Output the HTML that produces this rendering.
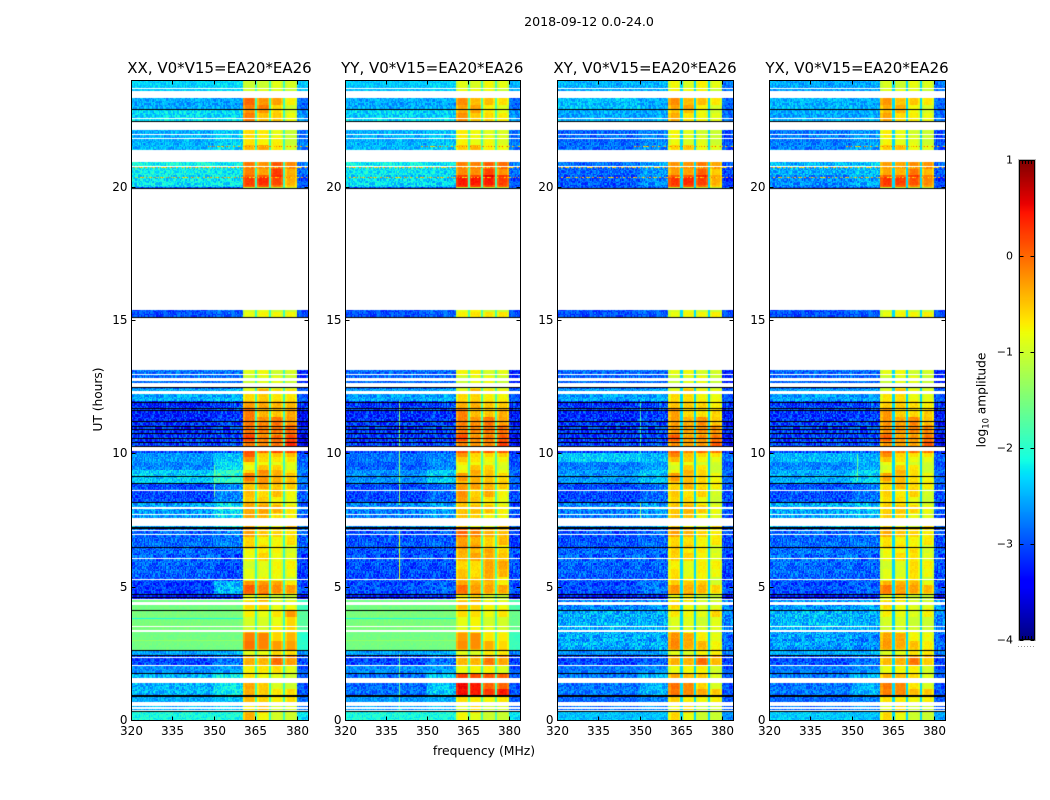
<!DOCTYPE html>
<html>
<head>
<meta charset="utf-8">
<title>2018-09-12 spectrograms</title>
<style>
html,body{margin:0;padding:0;background:#fff;width:1050px;height:800px;overflow:hidden}
#figure{position:relative;width:1050px;height:800px}
canvas{position:absolute;display:block}
svg{position:absolute;left:0;top:0}
text{font-family:"DejaVu Sans","Liberation Sans",sans-serif;fill:#000}
</style>
</head>
<body>
<div id="figure">
<svg id="overlay" width="1050" height="800" viewBox="0 0 1050 800">
<text x="589" y="26" font-size="12.6" text-anchor="middle">2018-09-12 0.0-24.0</text>
<text x="484" y="755" font-size="12.4" text-anchor="middle">frequency (MHz)</text>
<text transform="translate(102,399.5) rotate(-90)" font-size="12.2" text-anchor="middle">UT (hours)</text>
<text transform="translate(985.5,400) rotate(-90)" font-size="12.2" text-anchor="middle">log<tspan font-size="8.4" dy="3">10</tspan><tspan dy="-3"> amplitude</tspan></text>
</svg>
</div>
<script>
// Axis ticks
const freqTicks = [320, 335, 350, 365, 380];
const hourTicks = [0, 5, 10, 15, 20];
const colorbarTicks = [-4, -3, -2, -1, 0, 1];
// Time bands (UT hours) and frequency columns (MHz) of the heatmap cells
const hourEdges = [0,.35,.95,1.75,2.05,2.45,2.65,3.4,4.1,4.55,4.75,5.25,6.45,7.2,8.2,8.9,9.4,9.7,10.05,10.7,11.6,12,12.45,13.16,15.15,15.4,20,20.45,21,22.15,22.95,23.35,24];
const freqEdges = [320,350,360.5,365.3,370.2,375.3,380,384];
// Log10 amplitude per band (rows) and frequency column
const xxLevels = [
[-2.1,-2.1,-.35,-.7,-.75,-.8,-2.3],[-2.5,-2.4,-.6,-.7,-.8,-.8,-2.8],[-2.5,-2.2,-.55,-.65,-.7,-.8,-3],[-2.7,-2.6,-.7,-.7,-.7,-.8,-3],
[-3,-2.8,-.15,-.2,-.25,-.25,-3],[-2.6,-2.5,-.7,-.7,-.7,-.8,-2.7],[-1.55,-1.55,-.15,-.35,-.5,-.35,-2],[-1.5,-1.5,-.8,-.75,-.6,-.4,-1.7],
[-1.55,-1.55,-.85,-.55,-.8,-.8,-1.9],[-3.3,-3.2,-.9,-.9,-.9,-1,-3.4],[-3.1,-2.5,-.15,-.2,-.35,-.4,-3],[-2.9,-3,-.75,-.7,-.85,-.85,-3.1],
[-2.85,-2.75,-.45,-.6,-.8,-.8,-2.9],[-2.6,-2.3,-.4,-.45,-.55,-.65,-2.9],[-3,-2.7,-.55,-.5,-.65,-.6,-2.9],[-2.4,-2,-.35,-.4,-.5,-.5,-2.8],
[-2.7,-2.3,-.6,-.7,-.7,-.7,-2.9],[-2.6,-2.4,-.1,-.5,-.5,-.5,-2.9],[-3.1,-3,0,.05,.15,.1,-3.5],[-3.2,-3.1,-.2,-.2,-.25,-.2,-3.4],
[-3.2,-3,-.1,-.15,-.2,-.15,-3.2],[-2.55,-2.5,-.65,-.6,-.6,-.6,-3],[-2.8,-2.8,-1.1,-1,-1.05,-1.1,-3.2],[-3,-3,-1,-1,-1,-1,-3],
[-3,-2.9,-.9,-.9,-.9,-1,-3],[-3,-3,-1,-1,-1,-1,-3],[-2.25,-2.25,.25,.3,.1,-.3,-3],[-2.15,-2.2,.1,-.1,0,-.35,-2.8],
[-2.5,-2.35,-.45,-.5,-.6,-.9,-2.8],[-2.3,-2.3,-.35,-.45,-.45,-.8,-2.7],[-2.55,-2.6,-.2,-.3,-.45,-.85,-2.9],[-2.35,-2.3,-.9,-.85,-.95,-1,-2.4]];
const yyLevels = [
[-2.1,-2.1,-.75,-.8,-.8,-.85,-2.3],[-2.6,-2.5,-.8,-.85,-.85,-.85,-2.9],[-2.85,-2.4,.3,.3,.25,.25,-3],[-2.7,-2.6,-.8,-.8,-.8,-.85,-3],
[-3,-2.8,-.2,-.2,-.3,-.3,-3.1],[-2.6,-2.5,-.7,-.8,-.8,-.85,-2.8],[-1.55,-1.55,-.3,-.4,-.6,-.65,-1.9],[-1.5,-1.5,-.7,-.55,-.75,-.8,-1.6],
[-1.55,-1.55,-.7,-.55,-.7,-.8,-1.8],[-3.3,-3.2,-.8,-.8,-.8,-.9,-3.4],[-3,-2.9,-.25,-.35,-.45,-.45,-3],[-3,-3,-.35,-.45,-.4,-.45,-3],
[-2.95,-2.9,-.15,-.25,-.6,-.6,-3.1],[-2.75,-2.6,-.55,-.6,-.65,-.7,-3],[-3,-2.85,-.3,-.45,-.55,-.6,-3],[-2.7,-2.4,-.5,-.55,-.6,-.6,-2.9],
[-2.9,-2.7,-.6,-.7,-.7,-.75,-3],[-2.8,-2.7,-.4,-.55,-.6,-.6,-3],[-3.1,-3.05,-.05,0,.05,0,-3.4],[-3.15,-3.1,-.25,-.25,-.25,-.25,-3.3],
[-3.1,-3,-.2,-.2,-.3,-.25,-3.2],[-2.6,-2.55,-.65,-.65,-.65,-.7,-3],[-2.85,-2.85,-.95,-.95,-1,-1,-3.2],[-3,-3,-1,-1,-1,-1,-3],
[-3,-2.9,-.8,-.8,-.8,-.9,-3],[-3,-3,-1,-1,-1,-1,-3],[-2.3,-2.35,.45,.4,.35,.3,-3],[-2.2,-2.25,.05,0,-.05,-.2,-2.8],
[-2.5,-2.4,-.55,-.6,-.65,-.75,-2.8],[-2.35,-2.35,-.45,-.5,-.55,-.7,-2.7],[-2.55,-2.55,-.4,-.5,-.6,-.75,-2.9],[-2.4,-2.35,-.75,-.75,-.85,-.9,-2.5]];
const xyLevels = [
[-2.45,-2.45,-.55,-.75,-.8,-.85,-2.7],[-2.85,-2.7,-.7,-.85,-.85,-.9,-2.9],[-2.8,-2.5,-.25,-.3,-.35,-.7,-3],[-2.8,-2.7,-.8,-.8,-.8,-.9,-3],
[-3,-2.9,-.15,-.2,-.25,-.4,-3.1],[-2.7,-2.6,-.7,-.8,-.85,-.9,-2.8],[-2.55,-2.55,-.25,-.55,-.65,-.8,-2.9],[-2.5,-2.5,-.75,-.7,-.8,-.7,-2.7],
[-2.75,-2.7,-.85,-.8,-.85,-.9,-2.8],[-3.3,-3.2,-.9,-.9,-.9,-.95,-3.4],[-3,-2.8,-.45,-.45,-.55,-.7,-3],[-2.9,-2.9,-.5,-.7,-.8,-.85,-3.1],
[-2.95,-2.85,-.45,-.5,-.8,-.85,-3],[-2.75,-2.6,-.55,-.55,-.7,-.8,-3],[-3,-2.85,-.6,-.55,-.75,-.8,-3],[-2.65,-2.45,-.5,-.6,-.7,-.8,-2.9],
[-2.75,-2.6,-.7,-.75,-.8,-.85,-3],[-2.35,-2.45,-.3,-.45,-.6,-.7,-2.8],[-3.1,-3,-.1,-.1,-.05,-.15,-3.4],[-3.15,-3.05,-.4,-.4,-.4,-.45,-3.3],
[-3.1,-3,-.3,-.35,-.35,-.45,-3.2],[-2.6,-2.55,-.65,-.7,-.7,-.75,-3],[-2.85,-2.85,-1.05,-1,-1,-1.1,-3.2],[-3,-3,-1,-1,-1,-1,-3],
[-3,-2.9,-.9,-.9,-.9,-.95,-3],[-3,-3,-1,-1,-1,-1,-3],[-2.95,-2.7,.3,.3,.15,-.3,-3.2],[-2.85,-2.6,-.05,-.1,-.2,-.5,-3],
[-2.85,-2.7,-.6,-.7,-.75,-.85,-3],[-2.55,-2.55,-.6,-.65,-.7,-.85,-2.9],[-2.45,-2.55,-.4,-.5,-.6,-.8,-2.9],[-2.5,-2.5,-.65,-.75,-.8,-.9,-2.8]];
const yxLevels = [
[-2.4,-2.45,-.55,-.75,-.8,-.85,-2.6],[-2.85,-2.7,-.8,-.85,-.85,-.9,-2.9],[-2.8,-2.5,-.3,-.3,-.45,-.7,-3],[-2.8,-2.7,-.8,-.8,-.8,-.9,-3],
[-2.95,-2.8,-.2,-.2,-.3,-.5,-3.1],[-2.55,-2.5,-.75,-.75,-.75,-.85,-2.8],[-2.6,-2.7,-.35,-.55,-.7,-.75,-2.9],[-2.45,-2.5,-.8,-.75,-.85,-.85,-2.7],
[-2.65,-2.6,-.85,-.8,-.85,-.9,-2.7],[-3.3,-3.2,-.9,-.9,-.9,-.95,-3.4],[-3,-2.9,-.3,-.35,-.45,-.55,-3],[-2.85,-2.9,-.75,-.75,-.7,-.85,-3],
[-2.85,-2.8,-.5,-.6,-.8,-.85,-3],[-2.55,-2.45,-.6,-.65,-.75,-.8,-3],[-2.95,-2.8,-.65,-.6,-.75,-.8,-3],[-2.55,-2.35,-.55,-.6,-.75,-.8,-2.9],
[-2.7,-2.55,-.7,-.75,-.8,-.85,-3],[-2.45,-2.5,-.35,-.55,-.65,-.7,-2.9],[-3.05,-3,-.15,-.1,-.1,-.15,-3.4],[-3.1,-3.05,-.35,-.35,-.35,-.4,-3.3],
[-3.05,-3,-.35,-.35,-.4,-.45,-3.2],[-2.6,-2.6,-.7,-.7,-.75,-.8,-3],[-2.85,-2.85,-1.05,-1,-1.05,-1.1,-3.2],[-3,-3,-1,-1,-1,-1,-3],
[-3,-2.9,-.9,-.9,-.9,-.95,-3],[-3,-3,-1,-1,-1,-1,-3],[-2.7,-2.55,.3,.2,.05,-.1,-3.1],[-2.5,-2.4,-.1,-.2,-.3,-.4,-2.9],
[-2.75,-2.6,-.55,-.65,-.75,-.85,-3],[-2.55,-2.55,-.55,-.6,-.65,-.8,-2.9],[-2.5,-2.55,-.45,-.55,-.65,-.8,-2.9],[-2.55,-2.55,-.8,-.85,-.9,-.95,-2.8]];
// Speckle strength of each time band: parallel-hand and cross-hand panels
const copolNoise = [.25,.3,.35,.3,.4,.3,.07,.07,.08,.4,.4,.42,.42,.4,.42,.35,.35,.35,.5,.5,.5,.35,.35,.3,.3,.3,.35,.35,.3,.3,.3,.22];
const crossNoise = [.25,.35,.35,.3,.4,.3,.42,.42,.42,.4,.4,.42,.42,.4,.42,.35,.35,.35,.5,.5,.5,.35,.35,.3,.3,.3,.38,.38,.35,.3,.3,.3];
// Hand-typed speckle pattern (the fine grain is an approximation, not read per pixel)
const grain = [.6,-.8,.2,-.3,.9,-.5,.1,-1,.4,.7,-.2,-.7,.3,.8,-.4,-.9,.5,0,-.6,1,-.1,-.4,.6,-.8,.2,.9,-.3,-.7,.4,.1,-.9,.7,-.2,.5,-.6,.3,-1,.8,-.1,.2,-.5,.6,-.3,.9,-.7,.1,.4,-.8,.7,-.2,-.6,.5,1,-.4,.2,-.9,.3,.8,-.1,-.5,.6];
// Channels between the tones, and their amplitude in each panel
const dipFreqs = [365.3,370.2,375.3];
const dipLevels = [-1.9,-1.8,-2.3,-2.3];
// Single-frequency interference: panel, frequency, start hour, end hour, level
const rfiPanels = [0,1,1,1,2,2,3];
const rfiFreqs = [350,339.7,339.7,339.7,350,350,352];
const rfiStarts = [8.4,.4,5.3,8.1,7.6,10,9];
const rfiEnds = [9.6,2.5,7.1,12,8.2,12,10];
const rfiLevels = [-1.6,-1.6,-.9,-1.4,-1.4,-1.9,-1.6];
// Dotted time-domain interference rows: hour, first frequency, level
const rowHours = [20.4,20.75,21.53];
const rowStarts = [320,320,348];
const rowLevels = [-.85,-.85,-.7];
// Narrow darker rows across the strong green bands: panel, hour, level
const stripePanels = [0,0,1,1];
const stripeHours = [3.86,3.03,3.86,3.03];
const stripeLevels = [-2.1,-1.35,-2.1,-1.35];
// Unobserved ranges (white) and flagged ranges (black), hours
const gapRanges = [[23.33,23.6],[23.68,23.72],[22.56,22.59],[22.16,22.43],[21.97,22],[21.83,21.86],[20.93,21.38],[20.78,20.81],[15.38,19.95],[13.16,15.15],[12.94,12.98],[12.75,12.84],[12.49,12.64],[12.26,12.34],[10.09,10.24],[8.6,8.66],[7.95,7.99],[7.73,7.76],[7.31,7.61],[7.11,7.14],[6.98,7.01],[6.08,6.11],[5.29,5.32],[4.54,4.56],[4.35,4.43],[3.5,3.56],[3.33,3.41],[2.36,2.4],[2.06,2.08],[1.39,1.58],[.56,.71],[.45,.49],[.38,.41]];
const flagRanges = [[.33,.35],[.89,.92],[.94,.97],[1.75,1.78],[2.43,2.46],[2.63,2.66],[4.1,4.13],[4.62,4.65],[4.72,4.75],[6.47,6.5],[7.2,7.27],[8.15,8.21],[8.86,8.89],[9.14,9.17],[10.28,10.31],[10.43,10.46],[10.58,10.61],[10.75,10.78],[10.9,10.93],[11.03,11.06],[11.2,11.23],[11.62,11.65],[11.69,11.72],[11.93,11.96],[12.49,12.52],[15.09,15.13],[19.93,19.98],[22.44,22.47],[22.89,22.92]];
// Panels
const panelTitles = ["XX, V0*V15=EA20*EA26","YY, V0*V15=EA20*EA26","XY, V0*V15=EA20*EA26","YX, V0*V15=EA20*EA26"];
const panelLevels = [xxLevels,yyLevels,xyLevels,yxLevels];
const panelNoise = [copolNoise,copolNoise,crossNoise,crossNoise];
const panelLefts = [131,344.5,557,769];
const panelRights = [308,520,733,945];
const panelNames = ["xx","yy","xy","yx"];

const TOP = 80.5, BOTTOM = 720.5, FREQ_MIN = 320, FREQ_MAX = 384, HOUR_MAX = 24;
const CB_LEFT = 1019.5, CB_RIGHT = 1034.5, CB_TOP = 160, CB_BOTTOM = 640, CB_MIN = -4, CB_MAX = 1;
const NS = "http://www.w3.org/2000/svg";
const overlay = document.getElementById("overlay");
const figure = document.getElementById("figure");

function yScale(h){ return BOTTOM - (h / HOUR_MAX) * (BOTTOM - TOP); }
function xScale(p, f){ return panelLefts[p] + (f - FREQ_MIN) / (FREQ_MAX - FREQ_MIN) * (panelRights[p] - panelLefts[p]); }
function cbScale(v){ return CB_BOTTOM - (v - CB_MIN) / (CB_MAX - CB_MIN) * (CB_BOTTOM - CB_TOP); }
function ramp(t, xs, ys){
  for (let i = 1; i < xs.length; i++) if (t <= xs[i]) return ys[i-1] + (ys[i]-ys[i-1]) * (t-xs[i-1]) / (xs[i]-xs[i-1]);
  return ys[ys.length-1];
}
function jet(v){
  const t = Math.max(0, Math.min(1, (v - CB_MIN) / (CB_MAX - CB_MIN)));
  const r = ramp(t,[0,.35,.66,.89,1],[0,0,1,1,.5]);
  const g = ramp(t,[0,.125,.375,.64,.91,1],[0,0,1,1,0,0]);
  const b = ramp(t,[0,.11,.34,.65,1],[.5,1,1,0,0]);
  return "rgb(" + Math.round(r*255) + "," + Math.round(g*255) + "," + Math.round(b*255) + ")";
}
function line(x1, y1, x2, y2, parent, name){
  const el = document.createElementNS(NS, "line");
  el.setAttribute("x1", x1); el.setAttribute("y1", y1); el.setAttribute("x2", x2); el.setAttribute("y2", y2);
  el.setAttribute("stroke", "#000"); el.setAttribute("stroke-width", "1");
  
  
  parent.appendChild(el);
  return el;
}
function label(x, y, str, anchor, size, parent, name){
  const el = document.createElementNS(NS, "text");
  el.setAttribute("x", x); el.setAttribute("y", y);
  el.setAttribute("text-anchor", anchor); el.setAttribute("font-size", size);
  el.textContent = str;
  
  
  parent.appendChild(el);
  return el;
}
function drawHeatmap(ctx, p){
  const ox = Math.round(panelLefts[p]), oy = Math.round(TOP);
  const levels = panelLevels[p];
  const noise = panelNoise[p];
  const dF = .4, dT = .05;
  let ti = 0;
  for (let b = 0; b < hourEdges.length - 1; b++) {
    const nT = Math.max(1, Math.round((hourEdges[b+1] - hourEdges[b]) / dT));
    for (let it = 0; it < nT; it++, ti++) {
      const h = hourEdges[b] + (hourEdges[b+1] - hourEdges[b]) * it / nT;
      const h1 = it === nT - 1 ? hourEdges[b+1] : hourEdges[b] + (hourEdges[b+1] - hourEdges[b]) * (it + 1) / nT;
      const y0 = Math.round(yScale(h1)) - oy, y1 = Math.round(yScale(h)) - oy;
      if (y1 <= y0) continue;
      let fi = 0;
      for (let c = 0; c < freqEdges.length - 1; c++) {
        const tone = c >= 2 && c <= 5;
        const lobe = tone ? grain[(Math.floor(ti/6)*17 + c*29) % grain.length] * .25 : 0;
        const nF = Math.max(1, Math.round((freqEdges[c+1] - freqEdges[c]) / dF));
        for (let k = 0; k < nF; k++, fi++) {
          const f = freqEdges[c] + (freqEdges[c+1] - freqEdges[c]) * k / nF;
          const f1 = k === nF - 1 ? freqEdges[c+1] : freqEdges[c] + (freqEdges[c+1] - freqEdges[c]) * (k + 1) / nF;
          const g = grain[(fi*fi*3 + ti*ti*5 + fi*ti) % grain.length];
          let v = levels[b][c] + g * noise[b] * (tone ? .2 : 1) + lobe;
          if (tone) {
            const fm = (f + f1) / 2;
            for (const d of dipFreqs) if (Math.abs(fm - d) < 1) v -= .2;
            if (fm < freqEdges[2] + .8 || fm > freqEdges[6] - .8) v -= .2;
            v = Math.max(v, -1.05);
            for (const d of dipFreqs) if (Math.abs(fm - d) < .32) v = dipLevels[p];
          }
          const x0 = Math.round(xScale(p, f)) - ox, x1 = Math.round(xScale(p, f1)) - ox;
          if (x1 <= x0) continue;
          ctx.fillStyle = jet(v);
          ctx.fillRect(x0, y0, x1 - x0, y1 - y0);
        }
      }
    }
  }
  for (let i = 0; i < rfiFreqs.length; i++) {
    if (rfiPanels[i] !== p) continue;
    ctx.fillStyle = jet(rfiLevels[i]);
    const y0 = Math.round(yScale(rfiEnds[i])) - oy, y1 = Math.round(yScale(rfiStarts[i])) - oy;
    ctx.fillRect(Math.round(xScale(p, rfiFreqs[i])) - ox, y0, 1, y1 - y0);
  }
  for (let i = 0; i < stripeHours.length; i++) {
    if (stripePanels[i] !== p) continue;
    ctx.fillStyle = jet(stripeLevels[i]);
    const x1 = Math.round(xScale(p, freqEdges[2])) - ox;
    ctx.fillRect(0, Math.round(yScale(stripeHours[i])) - oy, x1, 1);
  }
  for (let i = 0; i < rowHours.length; i++) {
    const y = Math.round(yScale(rowHours[i])) - oy;
    let k = 0;
    for (let f = rowStarts[i]; f < FREQ_MAX; f += dF, k++) {
      const g = grain[(k * 7 + i * 11) % grain.length];
      if (g < -.1) continue;
      ctx.fillStyle = jet(rowLevels[i] + g * .9);
      ctx.fillRect(Math.round(xScale(p, f)) - ox, y, 1, 1);
    }
  }
  const W = ctx.canvas.width;
  for (const r of gapRanges) {
    const y0 = Math.round(yScale(r[1])) - oy, y1 = Math.round(yScale(r[0])) - oy;
    ctx.fillStyle = "#fff";
    ctx.fillRect(0, y0, W, Math.max(1, y1 - y0));
  }
  for (const r of flagRanges) {
    const y0 = Math.round(yScale(r[1])) - oy, y1 = Math.round(yScale(r[0])) - oy;
    ctx.fillStyle = "#000";
    ctx.fillRect(0, y0, W, Math.max(1, y1 - y0));
  }
}
function drawPanel(p){
  const left = panelLefts[p], right = panelRights[p];
  const cv = document.createElement("canvas");
  cv.width = Math.round(right) - Math.round(left);
  cv.height = 640;
  cv.style.left = Math.round(left) + "px";
  cv.style.top = Math.round(TOP) + "px";
  
  
  figure.insertBefore(cv, overlay);
  drawHeatmap(cv.getContext("2d"), p);

  const g = document.createElementNS(NS, "g");
  
  
  overlay.appendChild(g);
  const fx = Math.round(left) + .5, rx = Math.round(right) + .5;
  const frame = document.createElementNS(NS, "rect");
  frame.setAttribute("x", fx); frame.setAttribute("y", TOP);
  frame.setAttribute("width", rx - fx); frame.setAttribute("height", BOTTOM - TOP);
  frame.setAttribute("fill", "none"); frame.setAttribute("stroke", "#000");
  
  
  g.appendChild(frame);
  label((left + right) / 2, 73, panelTitles[p], "middle", 15, g, panelNames[p] + "-title");
  for (const t of freqTicks) {
    const x = Math.round(xScale(p, t)) + .5;
    line(x, BOTTOM, x, BOTTOM - 4, g, panelNames[p] + "-x-tick-bottom");
    line(x, TOP, x, TOP + 4, g, panelNames[p] + "-x-tick-top");
    label(x, 735, String(t), "middle", 12, g, panelNames[p] + "-x-tick-label");
  }
  for (const t of hourTicks) {
    const y = Math.round(yScale(t) - .5) + .5;
    line(fx, y, fx + 4, y, g, panelNames[p] + "-y-tick-left");
    line(rx, y, rx - 4, y, g, panelNames[p] + "-y-tick-right");
    label(fx - 4, y + 3.5, String(t), "end", 12, g, panelNames[p] + "-y-tick-label");
  }
}
function drawColorbar(){
  const cv = document.createElement("canvas");
  cv.width = 15; cv.height = 480;
  cv.style.left = "1020px"; cv.style.top = CB_TOP + "px";
  
  
  figure.insertBefore(cv, overlay);
  const ctx = cv.getContext("2d");
  for (let py = 0; py < 480; py++) {
    ctx.fillStyle = jet(CB_MAX - (py + .5) / 480 * (CB_MAX - CB_MIN));
    ctx.fillRect(0, py, 15, 1);
  }
  const g = document.createElementNS(NS, "g");
  
  
  overlay.appendChild(g);
  const halo = document.createElementNS(NS, "rect");
  halo.setAttribute("x", CB_LEFT - 1); halo.setAttribute("y", CB_TOP - .5);
  halo.setAttribute("width", CB_RIGHT - CB_LEFT + 2); halo.setAttribute("height", CB_BOTTOM - CB_TOP + 1);
  halo.setAttribute("fill", "none"); halo.setAttribute("stroke", "#bbb");
  
  
  g.appendChild(halo);
  const frame = document.createElementNS(NS, "rect");
  frame.setAttribute("x", CB_LEFT); frame.setAttribute("y", CB_TOP + .5);
  frame.setAttribute("width", CB_RIGHT - CB_LEFT); frame.setAttribute("height", CB_BOTTOM - CB_TOP - 1);
  frame.setAttribute("fill", "none"); frame.setAttribute("stroke", "#000");
  
  
  g.appendChild(frame);
  for (const v of colorbarTicks) {
    const y = Math.round(cbScale(v)) + .5;
    line(CB_LEFT, y, CB_LEFT + 4, y, g, "colorbar-tick-left");
    line(CB_RIGHT, y, CB_RIGHT - 4, y, g, "colorbar-tick-right");
    label(1013, y + 3, (v < 0 ? "\u2212" + (-v) : String(v)), "end", 11, g, "colorbar-tick-label");
  }
  for (let i = 1; i <= 4; i++) {
    const x = 1019.5 + i * 3;
    line(x, CB_TOP, x, CB_TOP + 4, g, "colorbar-top-minor-tick");
    line(x, CB_BOTTOM, x, CB_BOTTOM - 4, g, "colorbar-bottom-minor-tick");
  }
  const dots = line(1018, 646.5, 1035, 646.5, g, "colorbar-minor-labels");
  dots.setAttribute("stroke", "#999");
  dots.setAttribute("stroke-dasharray", "1 2");
}
for (let p = 0; p < panelTitles.length; p++) drawPanel(p);
drawColorbar();
</script>
</body>
</html>
